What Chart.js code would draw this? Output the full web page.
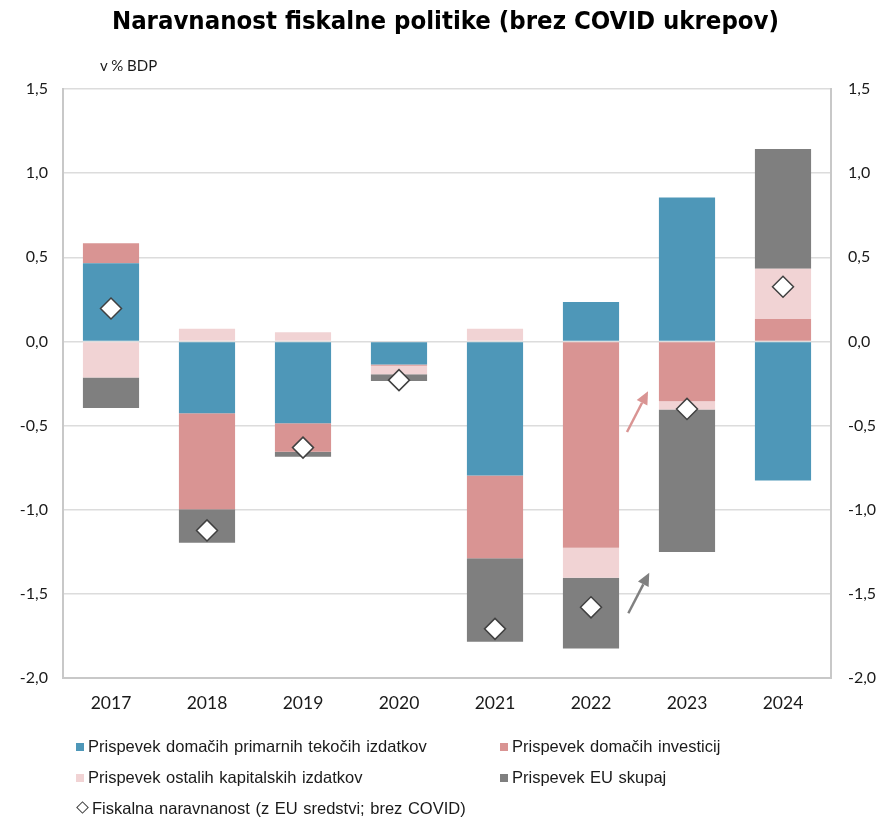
<!DOCTYPE html>
<html>
<head>
<meta charset="utf-8">
<script src="https://cdn.jsdelivr.net/npm/chart.js@4/dist/chart.umd.min.js"></script>
<style>
  html, body { margin: 0; padding: 0; background: #fff; }
  #wrap { position: relative; width: 883px; height: 823px; font-family: Lato, "Open Sans", sans-serif; color: #1a1a1a; }
  #title { position: absolute; left: 4px; width: 883px; top: 5px; text-align: center; font-family: "Liberation Sans Narrow", "DejaVu Sans Condensed", sans-serif; font-weight: bold; font-size: 25.5px; color: #000; }
  #unit { position: absolute; left: 100px; top: 56px; font-size: 15px; }
  .leg { position: absolute; font-size: 16.5px; font-family: "Liberation Sans", Arial, sans-serif; white-space: nowrap; line-height: 18px; word-spacing: 1px; }
  .sw { display: inline-block; width: 8px; height: 8px; margin-right: 4px; vertical-align: 1px; }
  .dm { display: inline-block; width: 7px; height: 7px; border: 1.2px solid #404040; background: #fff; transform: rotate(45deg); margin-right: 5px; margin-left: 2px; vertical-align: 2px; }
  canvas { position: absolute; left: 0; top: 0; }
</style>
</head>
<body>
<div id="wrap">
  <canvas id="c" width="883" height="823"></canvas>
  <div id="title">Naravnanost fiskalne politike (brez COVID ukrepov)</div>
  <div id="unit">v % BDP</div>
  <div class="leg" style="left:76px; top:737px;"><span class="sw" style="background:#4E97B8"></span>Prispevek domačih primarnih tekočih izdatkov</div>
  <div class="leg" style="left:500px; top:737px;"><span class="sw" style="background:#D99493"></span>Prispevek domačih investicij</div>
  <div class="leg" style="left:76px; top:768px;"><span class="sw" style="background:#F1D3D4"></span>Prispevek ostalih kapitalskih izdatkov</div>
  <div class="leg" style="left:500px; top:768px;"><span class="sw" style="background:#7F7F7F"></span>Prispevek EU skupaj</div>
  <div class="leg" style="left:76px; top:799px;"><span class="dm"></span>Fiskalna naravnanost (z EU sredstvi; brez COVID)</div>
</div>
<script>
const years = ['2017','2018','2019','2020','2021','2022','2023','2024'];
const tekoci     = [0.464, -0.427, -0.486, -0.137, -0.796, 0.234, 0.855, -0.826];
const investicije= [0.119, -0.570, -0.170, -0.008, -0.492, -1.226, -0.355, 0.133];
const ostali     = [-0.215, 0.075, 0.054, -0.050, 0.075, -0.179, -0.050, 0.299];
const euSkupaj   = [-0.180, -0.200, -0.030, -0.040, -0.496, -0.419, -0.847, 0.711];
const naravnanost= [0.196, -1.123, -0.631, -0.230, -1.708, -1.580, -0.401, 0.325];
const yTicks = [-2.0, -1.5, -1.0, -0.5, 0.0, 0.5, 1.0, 1.5];
// annotation arrows, in data units: [xIndexFrom, yFrom, xIndexTo, yTo]
const arrowPink = [5.375, -0.538, 5.594, -0.296];
const arrowGray = [5.389, -1.615, 5.607, -1.375];

const fmt = v => v.toFixed(1).replace('.', ',');

const arrowPlugin = {
  id: 'arrows',
  afterDatasetsDraw(chart) {
    const {ctx, scales: {x, y}} = chart;
    const draw = (a, col) => {
      const x1 = x.getPixelForValue(a[0]), y1 = y.getPixelForValue(a[1]);
      const x2 = x.getPixelForValue(a[2]), y2 = y.getPixelForValue(a[3]);
      const ang = Math.atan2(y2 - y1, x2 - x1);
      const hl = 13, hw = 6;
      const bx = x2 - hl * Math.cos(ang), by = y2 - hl * Math.sin(ang);
      ctx.save();
      ctx.strokeStyle = col; ctx.fillStyle = col; ctx.lineWidth = 2.5;
      ctx.beginPath(); ctx.moveTo(x1, y1); ctx.lineTo(bx, by); ctx.stroke();
      ctx.beginPath();
      ctx.moveTo(x2, y2);
      ctx.lineTo(bx + hw * Math.sin(ang), by - hw * Math.cos(ang));
      ctx.lineTo(bx - hw * Math.sin(ang), by + hw * Math.cos(ang));
      ctx.closePath(); ctx.fill();
      ctx.restore();
    };
    draw(arrowPink, '#D99493');
    draw(arrowGray, '#808080');
  }
};

const barCommon = { categoryPercentage: 1.0, barPercentage: 0.585, order: 2, borderWidth: 0 };

function build() {
  new Chart(document.getElementById('c'), {
    type: 'bar',
    data: {
      labels: years,
      datasets: [
        { label: 'Prispevek domačih primarnih tekočih izdatkov', data: tekoci, backgroundColor: '#4E97B8', ...barCommon },
        { label: 'Prispevek domačih investicij', data: investicije, backgroundColor: '#D99493', ...barCommon },
        { label: 'Prispevek ostalih kapitalskih izdatkov', data: ostali, backgroundColor: '#F1D3D4', ...barCommon },
        { label: 'Prispevek EU skupaj', data: euSkupaj, backgroundColor: '#7F7F7F', ...barCommon },
        { label: 'Fiskalna naravnanost (z EU sredstvi; brez COVID)', type: 'line', data: naravnanost, showLine: false,
          stack: 'nar', order: 0, pointStyle: 'rectRot', pointRadius: 10.5, pointHoverRadius: 10.5,
          pointBackgroundColor: '#FFFFFF', pointBorderColor: '#404040', pointBorderWidth: 1.5 }
      ]
    },
    plugins: [arrowPlugin],
    options: {
      responsive: false,
      animation: false,
      layout: { padding: { top: 89, bottom: 105, left: 0, right: 0 } },
      plugins: { legend: { display: false }, title: { display: false }, tooltip: { enabled: false } },
      scales: {
        x: {
          stacked: true,
          grid: { display: false, drawTicks: false },
          border: { display: true, color: '#C8C8C8', width: 2 },
          ticks: { padding: 15, color: '#1a1a1a', font: { family: 'Lato', size: 17.5 } },
          afterFit: s => { s.height = 40; }
        },
        y: {
          stacked: true,
          position: 'left',
          min: -2, max: 1.5,
          afterBuildTicks: s => { s.ticks = yTicks.map(v => ({ value: v })); },
          grid: { color: '#DCDCDC', lineWidth: 1.5, drawTicks: false },
          border: { display: true, color: '#C8C8C8', width: 2 },
          ticks: { padding: 15, color: '#1a1a1a', font: { family: 'Lato', size: 16 }, callback: v => fmt(v) },
          afterFit: s => { s.width = 63; }
        },
        y2: {
          position: 'right',
          min: -2, max: 1.5,
          afterBuildTicks: s => { s.ticks = yTicks.map(v => ({ value: v })); },
          grid: { display: false, drawTicks: false },
          border: { display: true, color: '#C8C8C8', width: 2 },
          ticks: { padding: 17, color: '#1a1a1a', font: { family: 'Lato', size: 16 }, callback: v => fmt(v) },
          afterFit: s => { s.width = 52; }
        }
      }
    }
  });
}

Promise.all([document.fonts.load('17px Lato'), document.fonts.load('16px Lato')])
  .then(build, build);
</script>
</body>
</html>
